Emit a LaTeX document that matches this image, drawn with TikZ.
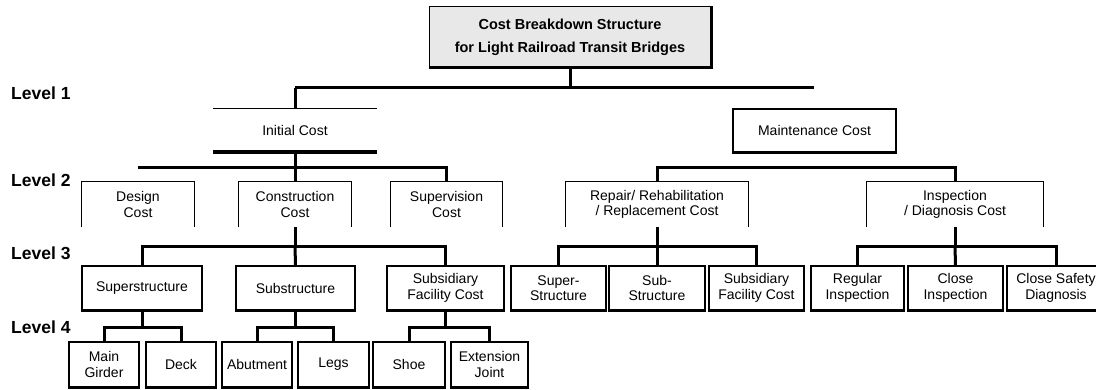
\documentclass[tikz,border=0pt]{standalone}
\usepackage{fontspec}
\setmainfont{Liberation Sans}
\usetikzlibrary{positioning}
\tikzset{
  item/.style={draw, line width=1.2pt, fill=white, align=center, inner sep=0pt,
    minimum height=44, font=\fontsize{14}{15.5}\selectfont},
  openitem/.style={align=center, inner sep=0pt, minimum height=45,
    font=\fontsize{14}{15.5}\selectfont},
  hairline/.style={line width=1pt},
  bus/.style={line width=3pt},
  levellabel/.style={anchor=west, inner sep=0pt, font=\fontsize{17.5}{20}\selectfont\bfseries},
}

\begin{document}
\begin{tikzpicture}[x=1pt, y=-1pt]
  \useasboundingbox (0,0) rectangle (1096,390);
  \clip (0,0) rectangle (1096,390);

  % levels
  \node[levellabel] (lv1) at (11,93) {Level 1};
  \node[levellabel] (lv2) at (11,180) {Level 2};
  \node[levellabel] (lv3) at (11,253) {Level 3};
  \node[levellabel] (lv4) at (11,327) {Level 4};

  % top
  \node[draw, hairline, fill=gray!18, align=center, minimum width=282, minimum height=60,
    font=\fontsize{14.5}{23}\selectfont\bfseries] (cbs) at (570,37)
    {Cost Breakdown Structure\\for Light Railroad Transit Bridges};
  \draw[line width=2.2pt] (cbs.south west) -- (cbs.south east) -- (cbs.north east);

  % level 1
  \node[openitem, minimum width=164, minimum height=43] (init) at (295,130.5) {Initial Cost};
  \node[item, minimum width=163, minimum height=43] (mnt) at (814.5,130.5) {Maintenance Cost};

  % level 2
  \node[openitem, minimum width=112] (des) at (138,204.5) {Design\\Cost};
  \node[openitem, minimum width=112] (con) at (295,204.5) {Construction\\Cost};
  \node[openitem, minimum width=111] (sup) at (446.5,204.5) {Supervision\\Cost};
  \node[openitem, minimum width=182] (rep) at (657,204.5) {Repair/ Rehabilitation\\/ Replacement Cost};
  \node[openitem, minimum width=176] (insp) at (955,204.5) {Inspection\\/ Diagnosis Cost};

  % level 3
  \node[item, minimum width=120] (supr) at (142,288) {Superstructure};
  \node[item, minimum width=119] (subs) at (295.5,288) {Substructure};
  \node[item, minimum width=117] (subf) at (445.5,288) {Subsidiary\\Facility Cost};
  \node[item, minimum width=95] (rsup) at (558.5,288) {Super-\\Structure};
  \node[item, minimum width=96] (rsub) at (657,288) {Sub-\\Structure};
  \node[item, minimum width=95] (rsubf) at (756.5,288) {Subsidiary\\Facility Cost};
  \node[item, minimum width=93] (reg) at (857.5,288) {Regular\\Inspection};
  \node[item, minimum width=95] (close) at (955.5,288) {Close\\Inspection};
  \node[item, minimum width=98] (safe) at (1056,288) {Close Safety\\Diagnosis};

  % level 4
  \node[item, minimum width=70, minimum height=45] (gird) at (104,364.5) {Main\\Girder};
  \node[item, minimum width=70, minimum height=45] (deck) at (181,364.5) {Deck};
  \node[item, minimum width=70, minimum height=45] (abut) at (257,364.5) {Abutment};
  \node[item, minimum width=71, minimum height=45] (legs) at (333.5,364.5) {Legs};
  \node[item, minimum width=72, minimum height=45] (shoe) at (409,364.5) {Shoe};
  \node[item, minimum width=77, minimum height=45] (ejnt) at (489.5,364.5) {Extension\\Joint};

  % heavy bottom edges
  \foreach \n in {mnt,supr,subs,subf,rsup,rsub,rsubf,reg,close,safe,gird,deck,abut,legs,shoe,ejnt}
    \draw[line width=2.5pt] (\n.south west) -- (\n.south east);

  % open boxes
  \draw[hairline] (init.north west) -- (init.north east);
  \draw[line width=4pt] (init.south west) -- (init.south east);
  \foreach \n in {des,con,sup,rep,insp}
    \draw[hairline] (\n.south west) |- (\n.north east) -- (\n.south east);

  % connectors
  \coordinate (k1l) at (295,88);
  \coordinate (k1r) at (814,88);
  \coordinate (k2l) at (138,168);
  \draw[bus] (cbs.south) -- (cbs.south |- k1l);
  \draw[bus] (k1l) -- (k1r);
  \draw[bus] (k1l) -- (init.north);

  \draw[bus] (init.south) -- (con.north);
  \draw[bus] (k2l) -| (sup.north);
  \draw[bus] (rep.north) |- ++(150,-14) -| (insp.north);

  \draw[bus] (con.south) -- ++(0,19) coordinate (k3a);
  \draw[bus] (supr.north) |- (k3a) -| (subf.north);
  \draw[bus] (k3a) -- (subs.north);
  \draw[bus] (rep.south) -- ++(0,19) coordinate (k3b);
  \draw[bus] (rsup.north) |- (k3b) -| (rsubf.north);
  \draw[bus] (k3b) -- (rsub.north);
  \draw[bus] (insp.south) -- ++(0,19) coordinate (k3c);
  \draw[bus] (reg.north) |- (k3c) -| (safe.north);
  \draw[bus] (k3c) -- (close.north);

  \draw[bus] (supr.south) -- ++(0,17) coordinate (k4a);
  \draw[bus] (gird.north) |- (k4a) -| (deck.north);
  \draw[bus] (subs.south) -- ++(0,17) coordinate (k4b);
  \draw[bus] (abut.north) |- (k4b) -| (legs.north);
  \draw[bus] (subf.south) -- ++(0,17) coordinate (k4c);
  \draw[bus] (shoe.north) |- (k4c) -| (ejnt.north);
\end{tikzpicture}
\end{document}
